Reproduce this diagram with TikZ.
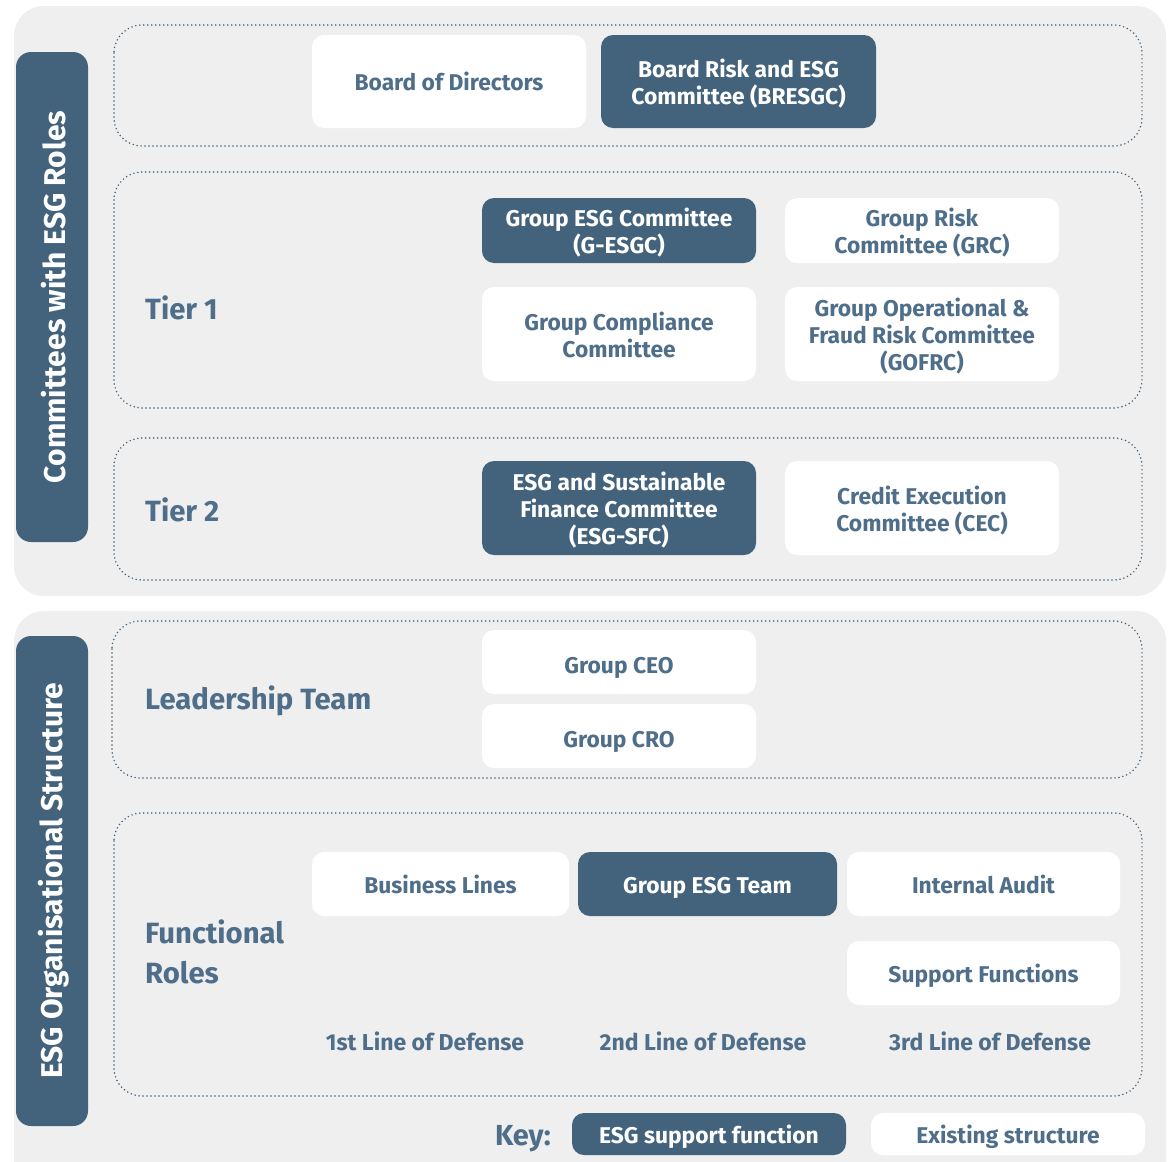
\documentclass[tikz,border=0pt]{standalone}
\usepackage{fontspec}
\setmainfont{Fira Sans}
\definecolor{dk}{HTML}{43637D}
\definecolor{tx}{HTML}{4F6E8A}
\definecolor{bg}{HTML}{EFEFEF}
\tikzset{
  boxtext/.style={inner sep=0pt, align=center, font=\bfseries\fontsize{22.8}{27}\selectfont},
  dark/.style={rounded corners=12pt, fill=dk},
  light/.style={rounded corners=12pt, fill=white},
  txtdark/.style={boxtext, text=white},
  txtlight/.style={boxtext, text=tx},
  panel/.style={fill=bg, rounded corners=30pt},
  tab/.style={fill=dk, rounded corners=15pt},
  tabtext/.style={rotate=90, text=white, font=\bfseries\fontsize{30}{32}\selectfont},
  dotbox/.style={draw=dk, line width=1.7pt, dash pattern=on 0pt off 4pt, line cap=round, rounded corners=28pt},
  lbl/.style={text=tx, anchor=west, inner sep=0pt, font=\bfseries\fontsize{29.3}{40}\selectfont, align=left},
  lod/.style={text=tx, inner sep=0pt, font=\bfseries\fontsize{23}{27}\selectfont}
}
% style, width, height, name, centre, text shift (down), text
\newcommand\orgbox[7]{%
  \node[#1, inner sep=0pt, minimum width=#2pt, minimum height=#3pt] (#4) at #5 {};
  \node[txt#1] (#4-t) at ([yshift=-#6pt]#4.center) {#7};
}
\begin{document}
\begin{tikzpicture}[x=1pt,y=-1pt]
\useasboundingbox (0,0) rectangle (1171,1162);
\clip (0,0) rectangle (1171,1162);
% panels
\fill[panel] (14,6) rectangle (1166,596);
\fill[panel] (14,611) rectangle (1166,1200);
% tabs
\fill[tab] (16,52) rectangle (88,542);
\node[tabtext] (tab1) at (54,297) {Committees with ESG Roles};
\fill[tab] (16,636) rectangle (88,1126);
\node[tabtext] (tab2) at (54,881) {ESG Organisational Structure};
% dotted groups
\draw[dotbox] (114,25) rectangle (1142,146);
\draw[dotbox] (114,172) rectangle (1142,408);
\draw[dotbox] (114,438) rectangle (1142,580);
\draw[dotbox] (112,621) rectangle (1142,778);
\draw[dotbox] (114,813) rectangle (1142,1096);
% labels
\node[lbl] (t1) at (145,308) {Tier 1};
\node[lbl] (t2) at (145,510) {Tier 2};
\node[lbl] (lt) at (145,701) {Leadership Team};
\node[lbl] (fr) at (145,952) {Functional\\Roles};
% board
\orgbox{light}{274}{93}{bod}{(449,81.5)}{0}{Board of Directors}
\orgbox{dark}{275}{93}{bresgc}{(738.5,81.5)}{2}{Board Risk and ESG\\Committee (BRESGC)}
% tier 1
\orgbox{dark}{274}{65}{gesgc}{(619,230.5)}{2.5}{Group ESG Committee\\(G-ESGC)}
\orgbox{light}{274}{65}{grc}{(922,230.5)}{2.5}{Group Risk\\Committee (GRC)}
\orgbox{light}{274}{94}{gcc}{(619,334)}{1}{Group Compliance\\Committee}
\orgbox{light}{274}{94}{gofrc}{(922,334)}{2}{Group Operational \&\\Fraud Risk Committee\\(GOFRC)}
% tier 2
\orgbox{dark}{274}{94}{esgsfc}{(619,508)}{2.5}{ESG and Sustainable\\Finance Committee\\(ESG-SFC)}
\orgbox{light}{274}{94}{cec}{(922,508)}{3}{Credit Execution\\Committee (CEC)}
% leadership
\orgbox{light}{274}{64}{ceo}{(619,662)}{6}{Group CEO}
\orgbox{light}{274}{64}{cro}{(619,736)}{6}{Group CRO}
% functional
\orgbox{light}{257}{64}{bl}{(440.5,884)}{0}{Business Lines}
\orgbox{dark}{259}{64}{gesgt}{(707.5,884)}{4}{Group ESG Team}
\orgbox{light}{273}{64}{ia}{(983.5,884)}{0}{Internal Audit}
\orgbox{light}{273}{64}{sf}{(983.5,973)}{3}{Support Functions}
\node[lod] (l1) at (425,1041) {1st Line of Defense};
\node[lod] (l2) at (703,1041) {2nd Line of Defense};
\node[lod] (l3) at (990,1041) {3rd Line of Defense};
% key
\node[text=tx, inner sep=0pt, font=\bfseries\fontsize{29}{30}\selectfont] (key) at (523,1139) {Key:};
\orgbox{dark}{274}{42}{k1}{(709,1134)}{3}{ESG support function}
\orgbox{light}{274}{42}{k2}{(1008,1134)}{3}{Existing structure}
\end{tikzpicture}
\end{document}
